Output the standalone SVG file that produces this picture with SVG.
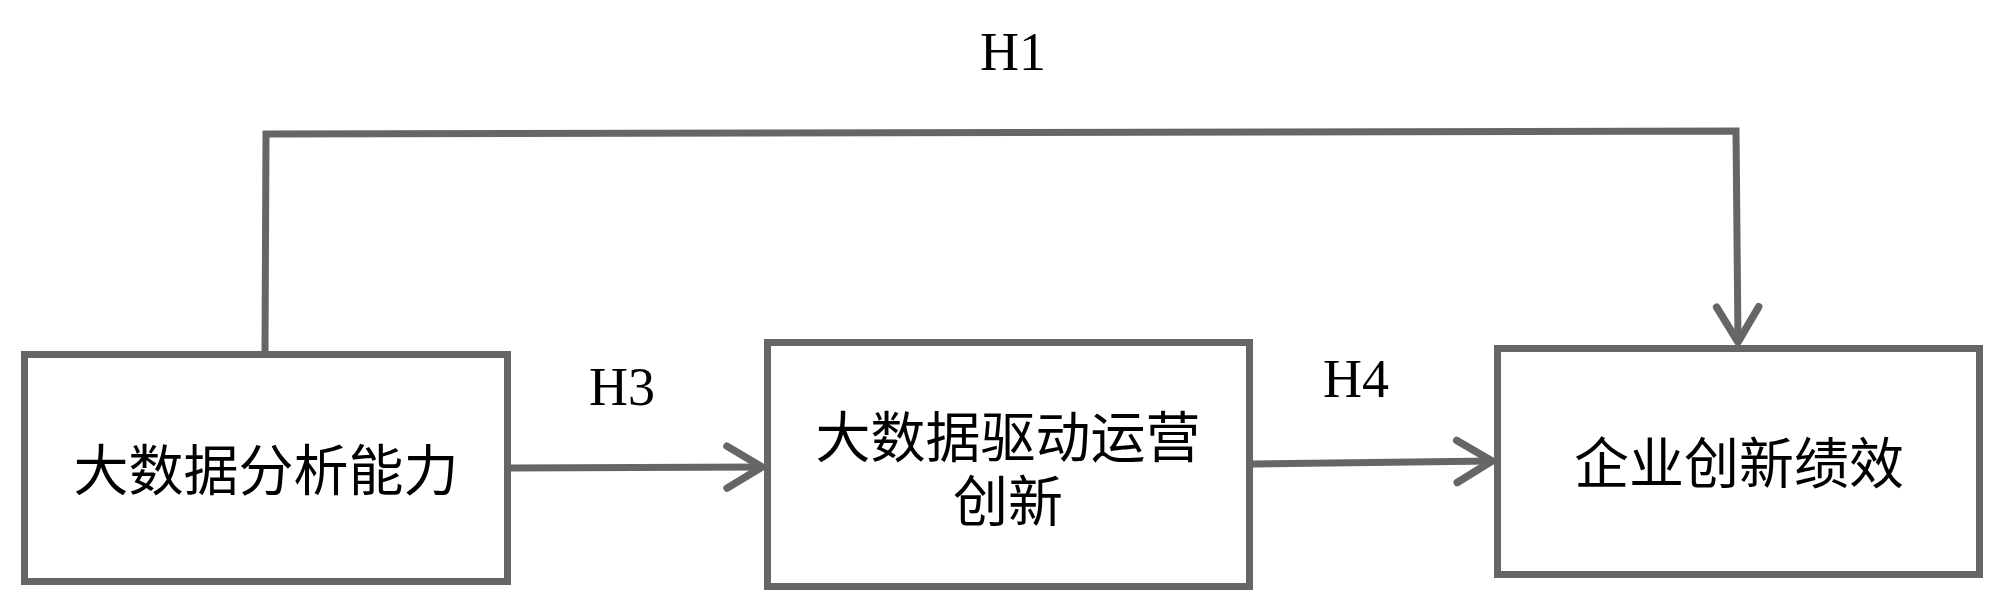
<svg xmlns="http://www.w3.org/2000/svg" width="2000" height="610" viewBox="0 0 2000 610">
<defs>
<style>
.box{fill:#ffffff;stroke:#666666;stroke-width:7}
.conn{fill:none;stroke:#666666;stroke-width:7;stroke-linejoin:miter}
.cjk{font-family:"Noto Sans CJK SC","Noto Sans",sans-serif;font-size:55px;fill:#000000;text-anchor:middle}
.lbl{font-family:"Liberation Serif","Times New Roman",serif;font-size:54px;fill:#000000;text-anchor:middle}
</style>
<marker id="chev" markerUnits="userSpaceOnUse" markerWidth="60" markerHeight="60" viewBox="-50 -30 60 60" refX="0" refY="0" orient="auto" overflow="visible">
<path d="M -35 -21 L 0 0 L -35 21" fill="none" stroke="#666666" stroke-width="7.5" stroke-linecap="round" stroke-linejoin="round"/>
</marker>
</defs>
<rect width="2000" height="610" fill="#ffffff"/>
<g id="connectors">
<polyline class="conn" points="265,351 266,134 1736,131 1738,342" marker-end="url(#chev)"/>
<line class="conn" x1="511" y1="468" x2="762" y2="467" marker-end="url(#chev)"/>
<line class="conn" x1="1253" y1="464" x2="1492" y2="461" marker-end="url(#chev)"/>
<text class="lbl" x="1013" y="70">H1</text>
<text class="lbl" x="622" y="405">H3</text>
<text class="lbl" x="1356" y="397">H4</text>
</g>
<g id="node1">
<rect class="box" x="24.5" y="354.5" width="483" height="227"/>
<text class="cjk" x="266" y="490">大数据分析能力</text>
</g>
<g id="node2">
<rect class="box" x="767.5" y="342.5" width="482" height="244"/>
<text class="cjk" x="1008" y="457"><tspan x="1008" y="457">大数据驱动运营</tspan><tspan x="1008" y="521">创新</tspan></text>
</g>
<g id="node3">
<rect class="box" x="1497.5" y="348.5" width="482" height="226"/>
<text class="cjk" x="1739" y="483">企业创新绩效</text>
</g>
</svg>
